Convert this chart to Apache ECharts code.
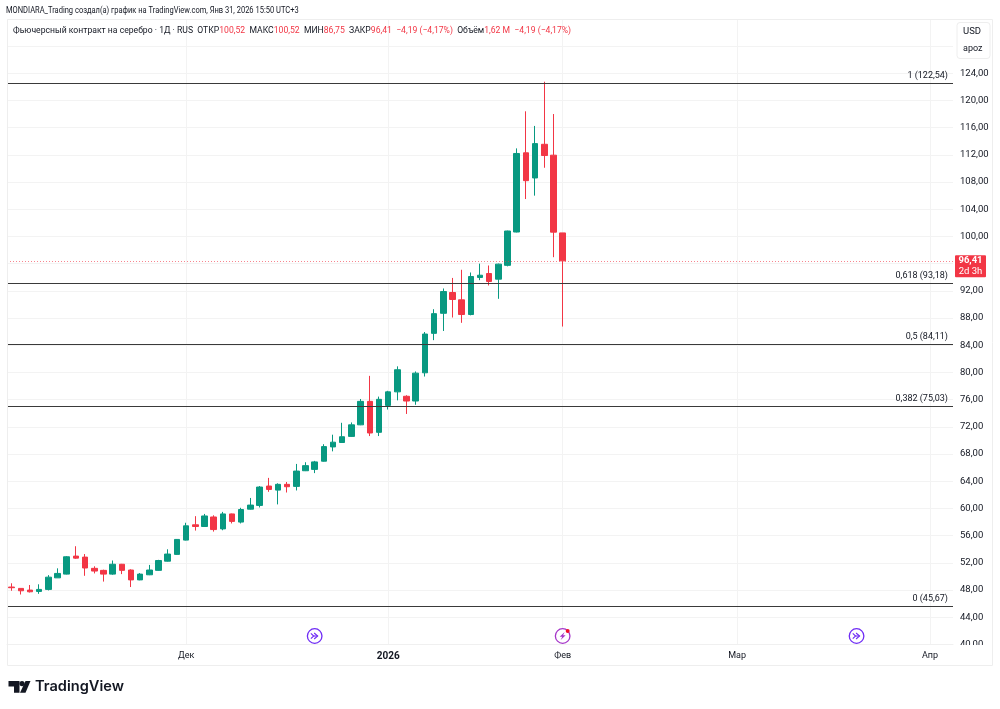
<!DOCTYPE html>
<html><head><meta charset="utf-8">
<style>html,body{margin:0;padding:0;background:#fff}#c{width:1000px;height:709px}</style>
<script src="https://cdn.jsdelivr.net/npm/echarts@6/dist/echarts.min.js"></script>
</head><body><div id="c"></div>
<script>
const opens  = [48.45,48.25,48,47.8,48.1,49.8,50.35,53,52.85,51.2,50.9,50.35,51.8,50.95,49.5,50.25,50.9,52.25,53.25,55.35,
 57.6,57.35,58.75,57,59.2,58,59.9,60.45,63.3,62.7,63.55,63.25,65.55,65.75,66.95,69.05,69.7,70.6,72.3,75.75,
 71.2,75.15,77.15,76.5,75.8,79.95,85.75,88.7,91.76,90.68,88.52,93.97,94.55,93.72,95.75,100.65,112.3,108.6,113.55,111.95,100.52];
const closes = [48.35,47.9,47.75,48.1,49.9,50.45,52.9,52.7,51.25,50.8,50.35,51.8,50.9,49.5,50.35,50.95,52.35,53.3,55.45,57.45,
 57.35,58.9,56.9,59.2,58.1,59.85,60.5,63.15,62.8,63.55,63.2,65.5,66.3,66.85,69.1,69.75,70.55,72.3,75.75,71.1,
 76.05,77.15,80.4,75.8,79.9,85.65,88.65,91.9,90.73,88.52,94.11,94.3,93.38,95.93,100.8,112.2,108.2,113.65,111.9,100.63,96.41];
const lows   = [47.9,47.35,47.65,47.45,47.95,49.8,50.3,52.6,50.1,50.45,49.25,50.25,50.35,48.45,49.45,50.2,50.85,52.2,53.2,55.3,
 56.75,57.3,56.6,56.8,57.8,57.8,59.85,60.15,62.45,60.6,62.35,62.65,65.5,65.2,66.9,68.4,69.65,70.55,72.25,70.65,
 70.65,74.55,75.9,73.9,75.25,79.4,84.75,86.1,88.08,87.3,88.4,93.57,92.79,90.83,95.6,100.6,105.5,106,110.1,96.95,86.75];
const highs  = [49,48.25,48.75,48.85,50.2,51.2,53,54.45,53.3,51.5,51,52.35,51.85,51.05,50.5,51.7,52.45,54,55.5,57.9,
 58.87,59.2,59,59.5,59.25,60.1,61.55,63.3,64.5,63.7,63.9,66.55,66.8,67,69.45,70.85,72.6,72.65,76.1,79.5,
 76.45,77.3,80.9,76.65,80.15,85.95,89.3,92.35,93.9,95.1,94.7,96,95.73,96,100.85,112.95,118.4,116.25,122.75,118,100.52];
const fibRatios = ['1','0,618','0,5','0,382','0'];
const fibPrices = [122.54,93.18,84.11,75.03,45.67];
const lastPrice = 96.41;
const countdown = '2d 3h';
const holidays = ['2025-11-04','2025-12-31','2026-01-01','2026-01-02','2026-01-07','2026-02-23','2026-03-09'];
const monthNames = ['2026','Фев','Мар','Апр','Май','Июн','Июл','Авг','Сен','Окт','Ноя','Дек'];
const eventDates = ['2025-12-19','2026-02-02','2026-03-20'];
const headerTitle = 'MONDIARA_Trading создал(а) график на TradingView.com, Янв 31, 2026 15:50 UTC+3';
const symbolName = 'Фьючерсный контракт на серебро · 1Д · RUS';
const ohlcNames = ['ОТКР','МАКС','МИН','ЗАКР'];
const ohlcValues = ['100,52','100,52','86,75','96,41'];
const changeText = '−4,19 (−4,17%)';
const volumeName = 'Объём';
const volumeValue = '1,62 M';

// trading calendar: weekdays without exchange holidays
const dates = [];
for (let d = new Date(Date.UTC(2025,10,3)); dates.length < 103; d = new Date(d.getTime()+864e5)) {
  const s = d.toISOString().slice(0,10), w = d.getUTCDay();
  if (w !== 0 && w !== 6 && !holidays.includes(s)) dates.push(s);
}
const isMonthStart = i => i > 0 && dates[i].slice(5,7) !== dates[i-1].slice(5,7);
const GREEN = '#089981', RED = '#f23645', INK = '#131722';
const FONT = 'Roboto, sans-serif';
const fmt = v => v.toFixed(2).replace('.', ',');

const chart = echarts.init(document.getElementById('c'), null, {renderer:'canvas'});
const GRID = {left:7, right:47, top:19.5, bottom:64.5};

const lines = fibPrices.map((p,i)=>({
  yAxis:p,
  lineStyle:{color:'#3a3a3a',width:1,type:'solid'},
  label:{show:true,position:'insideEndTop',distance:[5,3],formatter:`${fibRatios[i]} (${fmt(p)})`,color:INK,fontSize:9,fontFamily:FONT}
}));
lines.push({yAxis:lastPrice,lineStyle:{color:RED,width:1,type:[1,2],opacity:.6},label:{show:false}});

chart.setOption({
  animation:false,
  backgroundColor:'#fff',
  grid:GRID,
  xAxis:{type:'category',data:dates,boundaryGap:true,
    axisLine:{show:true,lineStyle:{color:'#f0f0f0'}},axisTick:{show:false},
    splitLine:{show:true,alignWithLabel:true,interval:(i)=>isMonthStart(i),lineStyle:{color:'#f3f3f3',width:1}},
    axisLabel:{interval:(i)=>isMonthStart(i),margin:7,fontSize:9,fontFamily:FONT,color:INK,
      formatter:(v)=>{const m=+v.slice(5,7)-1;return m===0?`{b|${monthNames[m]}}`:monthNames[m];},
      rich:{b:{fontWeight:'bold',fontSize:10,fontFamily:FONT,color:INK}}}},
  yAxis:{type:'value',position:'right',min:40,max:131.9,interval:4,scale:false,
    axisLine:{show:false},axisTick:{show:false},
    splitLine:{show:true,lineStyle:{color:'#f3f3f3',width:1}},
    axisLabel:{margin:7,fontSize:9.5,fontFamily:FONT,color:INK,showMaxLabel:false,
      formatter:v=>v>=128?'':fmt(v)}},
  series:[{type:'candlestick',barWidth:6,
    data:opens.map((o,i)=>[o,closes[i],lows[i],highs[i]]),
    itemStyle:{color:GREEN,color0:RED,borderColor:GREEN,borderColor0:RED,borderColorDoji:RED,borderWidth:1},
    markLine:{silent:true,symbol:'none',animation:false,precision:2,data:lines}
  }]
});

function px(i){return chart.convertToPixel({xAxisIndex:0},dates[i]);}
const priceY = chart.convertToPixel({yAxisIndex:0},lastPrice);
const gfx = [
  {type:'rect',z:50,silent:true,shape:{x:954,y:645,width:37,height:19},style:{fill:'#fff'}},
  {type:'rect',z:51,silent:true,shape:{x:7.5,y:19.5,width:985,height:646},style:{fill:'none',stroke:'#eeeeee',lineWidth:1}},
  {type:'text',z:60,x:6,y:11,scaleX:.818,style:{text:headerTitle,fill:INK,font:`9.2px ${FONT}`,verticalAlign:'middle'}},
  {type:'text',z:60,x:13,y:30.5,scaleX:.958,style:{
    text:`${symbolName}  ${ohlcNames.map((n,i)=>`${n}{r|${ohlcValues[i]}}`).join('  ')}  {r|${changeText}}  ${volumeName}{r|${volumeValue}}  {r|${changeText}}`,
    fill:INK,font:`9px ${FONT}`,verticalAlign:'middle',
    rich:{r:{fill:RED,font:`9px ${FONT}`}}}},
  {type:'rect',z:60,shape:{x:957,y:22.5,width:33,height:36,r:3},style:{fill:'#fff',stroke:'#eeeeee',lineWidth:1}},
  {type:'text',z:61,x:963,y:31.5,style:{text:'USD',fill:INK,font:`9.5px ${FONT}`,verticalAlign:'middle'}},
  {type:'text',z:61,x:963,y:49,style:{text:'apoz',fill:INK,font:`9px ${FONT}`,verticalAlign:'middle'}},
  {type:'rect',z:60,shape:{x:955,y:priceY-5.5,width:31,height:22,r:1},style:{fill:RED}},
  {type:'text',z:61,x:970.5,y:priceY,style:{text:fmt(lastPrice),fill:'#fff',font:`bold 9.5px ${FONT}`,align:'center',verticalAlign:'middle'}},
  {type:'text',z:61,x:970.5,y:priceY+11,style:{text:countdown,fill:'#fff',font:`9.5px ${FONT}`,align:'center',verticalAlign:'middle'}},
  // TradingView logo
  {type:'polygon',z:60,shape:{points:[[8.5,681],[19.5,681],[19.5,692.7],[14,692.7],[14,686.5],[8.5,686.5]]},style:{fill:INK}},
  {type:'circle',z:60,shape:{cx:22,cy:683.6,r:2.6},style:{fill:INK}},
  {type:'polygon',z:60,shape:{points:[[25.5,681],[30.5,681],[25.5,692.7],[20,692.7]]},style:{fill:INK}},
  {type:'text',z:60,x:35,y:687,style:{text:'TradingView',fill:INK,font:`600 14.6px Inter, ${FONT}`,verticalAlign:'middle'}}
];
eventDates.forEach((d,k)=>{
  const i = dates.indexOf(d), cx = px(i), cy = 636, col = k===1?'#a636c9':'#6f2cf5';
  gfx.push({type:'circle',z:60,shape:{cx,cy,r:7.3},style:{fill:'#fff',stroke:col,lineWidth:1.3}});
  if(k===1){
    gfx.push({type:'polygon',z:61,shape:{points:[[cx+2,cy-4],[cx-3,cy+.8],[cx-.4,cy+.8],[cx-2,cy+4],[cx+3,cy-.8],[cx+.4,cy-.8]]},style:{fill:col}});
    gfx.push({type:'circle',z:62,shape:{cx:cx+5,cy:cy-5,r:2},style:{fill:'#f00f2a'}});
  }else{
    gfx.push({type:'polyline',z:61,shape:{points:[[cx-3.8,cy-2.6],[cx-1,cy],[cx-3.8,cy+2.6]]},style:{fill:'none',stroke:col,lineWidth:1.1}});
    gfx.push({type:'polyline',z:61,shape:{points:[[cx-.5,cy-3],[cx+3,cy],[cx-.5,cy+3]]},style:{fill:'none',stroke:col,lineWidth:1.1}});
    gfx.push({type:'line',z:61,shape:{x1:cx-1,y1:cy,x2:cx+3,y2:cy},style:{stroke:col,lineWidth:1.1}});
  }
});
chart.setOption({graphic:gfx});
</script></body></html>
